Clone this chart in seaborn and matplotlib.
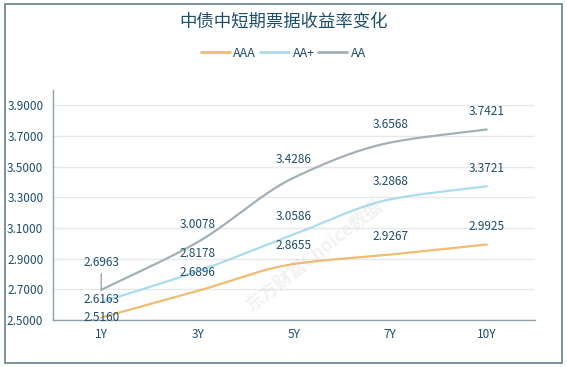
import numpy as np
import pandas as pd
import matplotlib
matplotlib.use("Agg")
import matplotlib.pyplot as plt
import seaborn as sns
from matplotlib.patches import Rectangle

# data
tenors = ["1Y", "3Y", "5Y", "7Y", "10Y"]
aaa = [2.5160, 2.6896, 2.8655, 2.9267, 2.9925]
aa_plus = [2.6163, 2.8178, 3.0586, 3.2868, 3.3721]
aa = [2.6963, 3.0078, 3.4286, 3.6568, 3.7421]
y_ticks = [2.5, 2.7, 2.9, 3.1, 3.3, 3.5, 3.7, 3.9]

series = {"AAA": aaa, "AA+": aa_plus, "AA": aa}
colors = {"AAA": "#f2bb72", "AA+": "#aadcef", "AA": "#a2b0b8"}
text_color = "#1d4e6b"

sns.set_style("white")
plt.rcParams["font.family"] = ["Noto Sans CJK SC", "DejaVu Sans"]


def pchip(x, y, xs):
    """Monotone cubic curve through the points, only used to draw a smooth line."""
    x = np.asarray(x, float)
    y = np.asarray(y, float)
    h = np.diff(x)
    d = np.diff(y) / h
    m = np.zeros_like(y)
    for k in range(1, len(x) - 1):
        if d[k - 1] * d[k] > 0:
            w1 = 2 * h[k] + h[k - 1]
            w2 = h[k] + 2 * h[k - 1]
            m[k] = (w1 + w2) / (w1 / d[k - 1] + w2 / d[k])
    m[0] = d[0]
    m[-1] = d[-1]
    idx = np.clip(np.searchsorted(x, xs) - 1, 0, len(x) - 2)
    t = (xs - x[idx]) / h[idx]
    h00 = 2 * t**3 - 3 * t**2 + 1
    h10 = t**3 - 2 * t**2 + t
    h01 = -2 * t**3 + 3 * t**2
    h11 = t**3 - t**2
    return h00 * y[idx] + h10 * h[idx] * m[idx] + h01 * y[idx + 1] + h11 * h[idx] * m[idx + 1]


xpos = np.arange(len(tenors))
xs = np.linspace(0, len(tenors) - 1, 200)
rows = []
for name, vals in series.items():
    for xv, yv in zip(xs, pchip(xpos, vals, xs)):
        rows.append({"x": xv, "y": yv, "series": name})
curve_df = pd.DataFrame(rows)

fig = plt.figure(figsize=(5.67, 3.67), dpi=100)
ax = fig.add_axes([0.0935, 0.128, 0.85, 0.627])

sns.lineplot(data=curve_df, x="x", y="y", hue="series", palette=colors,
             linewidth=1.6, ax=ax, legend=False, sort=False)

ax.set_xlim(-0.5, len(tenors) - 0.5)
ax.set_ylim(2.5, 4.0)
ax.set_yticks(y_ticks)
ax.set_yticklabels([f"{v:.4f}" for v in y_ticks])
ax.set_xticks(np.arange(-0.5, len(tenors), 1.0))
ax.set_xticklabels([])
ax.set_xticks(xpos, minor=True)
ax.set_xticklabels(tenors, minor=True)
ax.tick_params(axis="x", which="major", length=4, color="#8fa3ad", width=1)
ax.tick_params(axis="x", which="minor", length=0, pad=6, labelsize=8.5, labelcolor=text_color)
ax.tick_params(axis="y", length=0, pad=7, labelsize=8.5, labelcolor=text_color)
ax.set_xlabel("")
ax.set_ylabel("")
ax.grid(axis="y", color="#e6e9ec", linewidth=1)
ax.set_axisbelow(True)
for side in ["top", "right"]:
    ax.spines[side].set_visible(False)
for side in ["left", "bottom"]:
    ax.spines[side].set_color("#8fa3ad")
    ax.spines[side].set_linewidth(1)

# value labels (the 1Y ones are pushed around to avoid overlapping)
offsets_1y = {"AAA": 0, "AA+": 3, "AA": 27}
for name, vals in series.items():
    for i, v in enumerate(vals):
        dy = offsets_1y[name] if i == 0 else 18
        ax.annotate(f"{v:.4f}", (i, v), xytext=(0, dy), textcoords="offset pixels",
                    ha="center", va="center", fontsize=8.5, color=text_color,
                    annotation_clip=False)
ax.annotate("", (0, aa[0]), xytext=(0, 16), textcoords="offset pixels",
            arrowprops=dict(arrowstyle="-", color="#9aa6ad", lw=1, shrinkA=0, shrinkB=0))

# watermark
fig.text(0.555, 0.305, "东方财富Choice数据", rotation=38, fontsize=13, color="#b8b8b8",
         alpha=0.18, ha="center", va="center", fontweight="bold")

# title and legend
fig.text(0.5, 0.94, "中债中短期票据收益率变化", ha="center", va="center",
         fontsize=12.5, color=text_color)
handles = [plt.Line2D([], [], color=colors[n], linewidth=2) for n in series]
fig.legend(handles, list(series), loc="center", bbox_to_anchor=(0.5, 0.855), ncol=3,
           frameon=False, fontsize=9, handlelength=2.3, handletextpad=0.3,
           columnspacing=0.3, labelcolor=text_color)

# outer frame
fig.patches.append(Rectangle((0.008, 0.01), 0.984, 0.98, transform=fig.transFigure,
                             fill=False, edgecolor="#6f8a97", linewidth=1.3))

fig.savefig("out.png", dpi=100)
